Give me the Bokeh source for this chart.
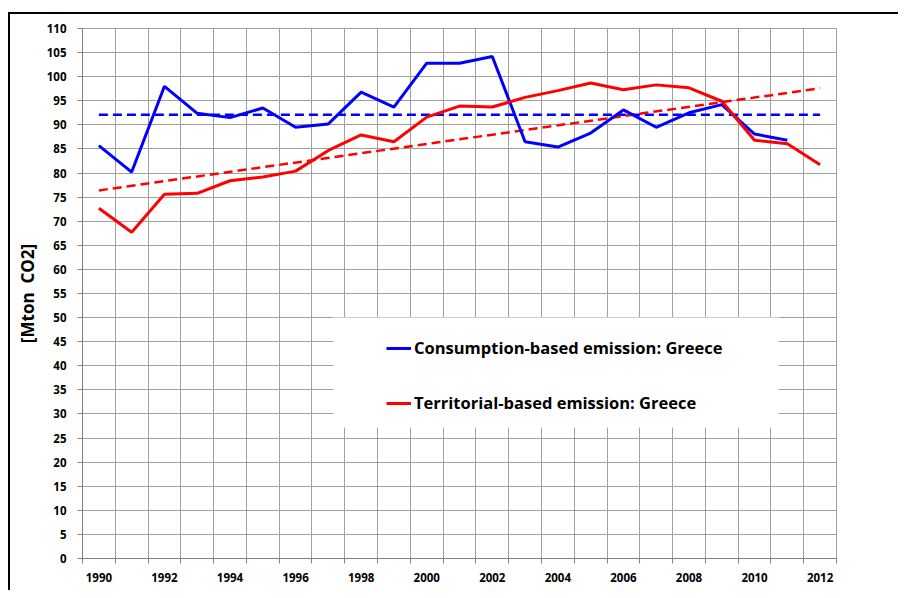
from bokeh.plotting import figure
from bokeh.models import Range1d, FixedTicker, Legend, LegendItem, BoxAnnotation
from bokeh.embed import file_html
from bokeh.resources import INLINE

years = list(range(1990, 2013))
consumption_years = list(range(1990, 2012))
consumption = [85.7, 80.2, 98.0, 92.4, 91.5, 93.5, 89.5, 90.2, 96.8, 93.7,
               102.8, 102.8, 104.2, 86.5, 85.4, 88.3, 93.1, 89.5, 92.5, 94.2,
               88.1, 86.8]
territorial = [72.7, 67.7, 75.6, 75.8, 78.4, 79.2, 80.4, 84.7, 87.9, 86.5,
               91.6, 93.9, 93.7, 95.7, 97.1, 98.7, 97.3, 98.3, 97.7, 94.9,
               86.8, 86.1, 81.7]
trend_years = [1990, 2012]
consumption_trend = [92.1, 92.1]
territorial_trend = [76.4, 97.6]
tick_years = list(range(1990, 2013, 2))
y_ticks = list(range(0, 111, 5))
boundaries = [y - 0.5 for y in range(1990, 2014)]

FONT = "Open Sans"
GRID = "#a0a0a0"

p = figure(width=898, height=590, output_backend="svg", toolbar_location=None,
           x_range=Range1d(1989.5, 2012.5), y_range=Range1d(0, 110),
           min_border_left=82, min_border_right=62, min_border_top=28, min_border_bottom=32,
           background_fill_color="white", border_fill_color="white", border_fill_alpha=0)

# page frame (left and top black rule) drawn behind the transparent canvas border
p.styles = {
    "background-color": "white",
    "background-image": "linear-gradient(black, black), linear-gradient(black, black)",
    "background-size": "2px 100%, 100% 2px",
    "background-position": "8px 12px, 8px 12px",
    "background-repeat": "no-repeat",
}

p.outline_line_color = GRID
p.outline_line_width = 1

# x axis
p.xaxis.ticker = FixedTicker(ticks=tick_years, minor_ticks=boundaries)
p.xaxis.major_tick_line_color = None
p.xaxis.major_tick_out = 0
p.xaxis.major_tick_in = 0
p.xaxis.minor_tick_out = 5
p.xaxis.minor_tick_in = 0
p.xaxis.minor_tick_line_color = "#808080"
p.xaxis.axis_line_color = "#808080"
p.xaxis.major_label_standoff = 9
p.xaxis.major_label_text_font = FONT
p.xaxis.major_label_text_font_style = "bold"
p.xaxis.major_label_text_font_size = "11.5px"
p.xaxis.major_label_text_color = "black"

# y axis
p.yaxis.ticker = FixedTicker(ticks=y_ticks)
p.yaxis.minor_tick_line_color = None
p.yaxis.major_tick_out = 5
p.yaxis.major_tick_in = 0
p.yaxis.major_tick_line_color = "#808080"
p.yaxis.axis_line_color = "#808080"
p.yaxis.major_label_standoff = 11
p.yaxis.major_label_text_font = FONT
p.yaxis.major_label_text_font_style = "bold"
p.yaxis.major_label_text_font_size = "11.5px"
p.yaxis.major_label_text_color = "black"
p.yaxis.axis_label = "[Mton\u00a0\u00a0CO2]"
p.yaxis.axis_label_text_font = FONT
p.yaxis.axis_label_text_font_style = "bold"
p.yaxis.axis_label_text_font_size = "17px"
p.yaxis.axis_label_text_color = "black"
p.yaxis.axis_label_standoff = 5

# grids
p.xgrid.ticker = FixedTicker(ticks=boundaries)
p.xgrid.grid_line_color = GRID
p.ygrid.grid_line_color = GRID

# trend lines
p.line(trend_years, consumption_trend, line_color="#0000ff", line_width=2.5, line_dash="9 5")
p.line(trend_years, territorial_trend, line_color="#ff0000", line_width=2.5, line_dash="9 5")

# series
r_cons = p.line(consumption_years, consumption, line_color="#0000ff", line_width=3)
r_terr = p.line(years, territorial, line_color="#ff0000", line_width=3)

# legend background
p.add_layout(BoxAnnotation(left=251, right=696, bottom=131, top=241,
                           left_units="screen", right_units="screen",
                           bottom_units="screen", top_units="screen",
                           fill_color="white", fill_alpha=1.0, line_color=None))

legend = Legend(items=[LegendItem(label="Consumption-based emission: Greece", renderers=[r_cons]),
                       LegendItem(label="Territorial-based emission: Greece", renderers=[r_terr])],
                location=(304, 144), margin=0, padding=10, spacing=32,
                glyph_width=25, glyph_height=20, label_height=20, label_standoff=3,
                label_text_font=FONT, label_text_font_style="bold",
                label_text_font_size="16.5px", label_text_color="black",
                background_fill_alpha=0, border_line_color=None)
p.add_layout(legend)

open("out.html", "w").write(file_html(p, INLINE))
